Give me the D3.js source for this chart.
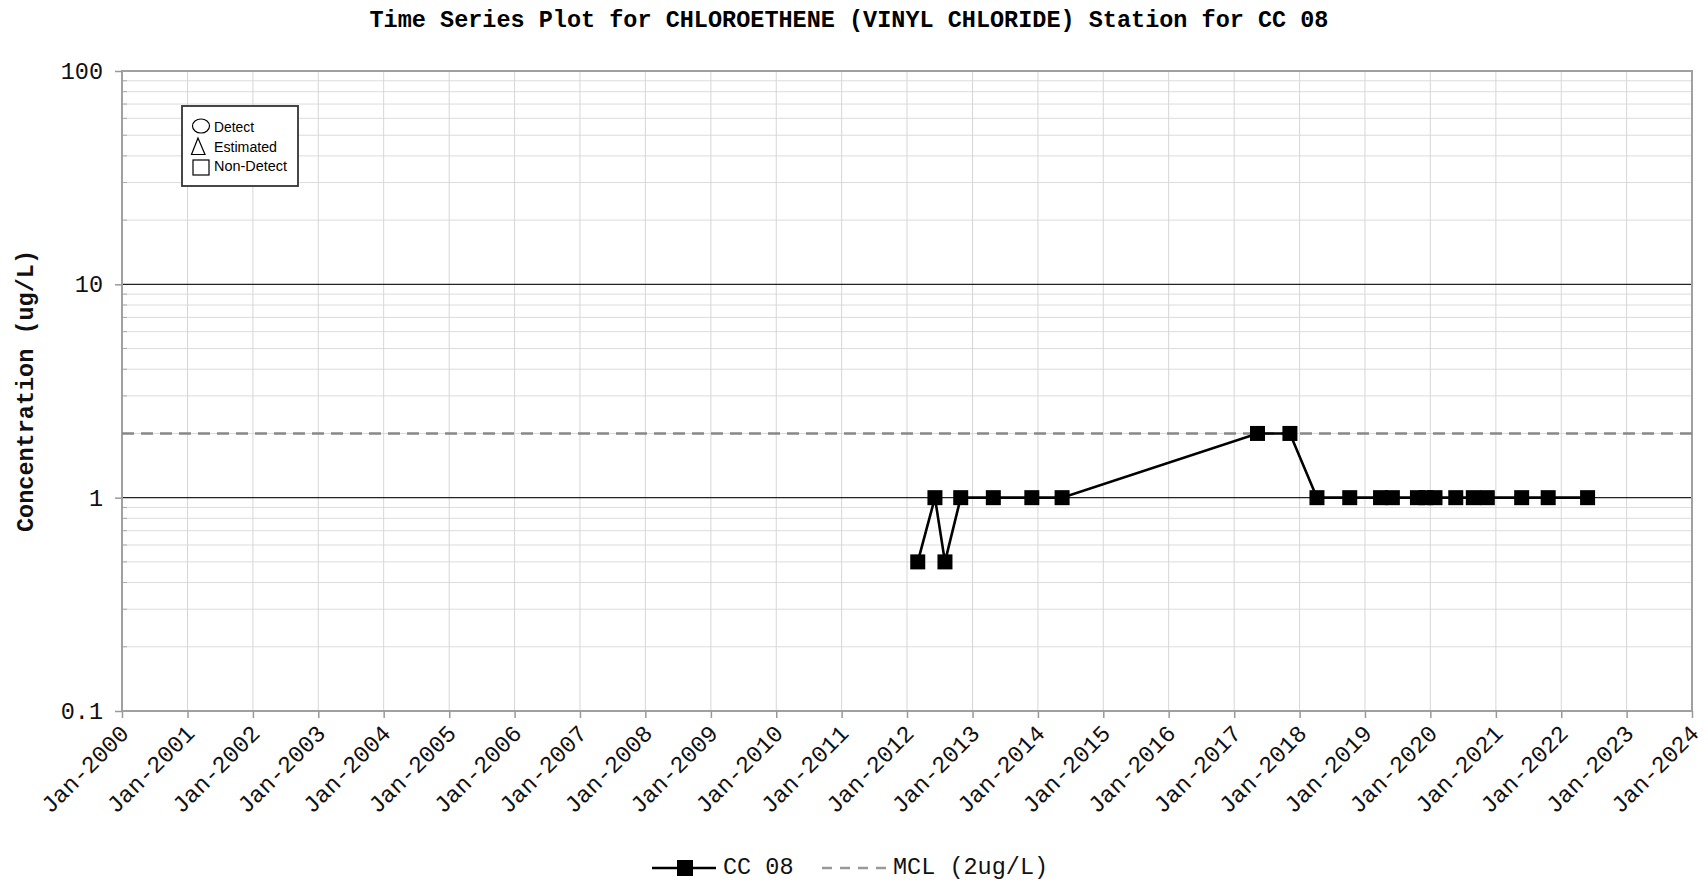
<!DOCTYPE html>
<html>
<head>
<meta charset="utf-8">
<script src="https://cdn.jsdelivr.net/npm/d3@7/dist/d3.min.js"></script>
<style>
  html, body { margin: 0; padding: 0; background: #fff; }
  svg { display: block; }
</style>
</head>
<body>
<svg id="chart" width="1708" height="884"></svg>
<script>
// ---- Data ----
const chartTitle = "Time Series Plot for CHLOROETHENE (VINYL CHLORIDE) Station for CC 08";
const yAxisTitle = "Concentration (ug/L)";
const seriesName = "CC 08";
const mclName = "MCL (2ug/L)";
const mclValue = 2;

const sampleDates = [
  "2012-03-01", "2012-06-05", "2012-07-31", "2012-10-27",
  "2013-04-27", "2013-11-28", "2014-05-16",
  "2017-05-11", "2017-11-08",
  "2018-04-08", "2018-10-08",
  "2019-03-29", "2019-06-03", "2019-10-21", "2019-12-07",
  "2020-01-27", "2020-05-22", "2020-08-28", "2020-11-14",
  "2021-05-25", "2021-10-20", "2022-05-28"
];
const concentrations = [
  0.5, 1, 0.5, 1,
  1, 1, 1,
  2, 2,
  1, 1,
  1, 1, 1, 1,
  1, 1, 1, 1,
  1, 1, 1
];
const yearTicks = d3.range(2000, 2025);
const yTickValues = [0.1, 1, 10, 100];
const yTickLabels = ["0.1", "1", "10", "100"];
const symbolLegendLabels = ["Detect", "Estimated", "Non-Detect"];

// ---- Layout ----
const svg = d3.select("#chart");
const L = 122, R = 1692, T = 71, B = 711;
const parse = d3.timeParse("%Y-%m-%d");
const data = sampleDates.map((d, i) => ({ date: parse(d), value: concentrations[i] }));

const x = d3.scaleTime()
  .domain([new Date(2000, 0, 1), new Date(2024, 0, 1)])
  .range([L, R]);
const y = d3.scaleLog()
  .domain([0.1, 100])
  .range([B, T]);

const mono = "'Liberation Mono', 'Courier New', monospace";

// Title
svg.append("text")
  .attr("x", 849).attr("y", 27)
  .attr("text-anchor", "middle")
  .style("font-family", mono).style("font-weight", "bold").style("font-size", "23.5px")
  .attr("fill", "#000")
  .text(chartTitle);

const g = svg.append("g");

// Minor horizontal gridlines
const minorVals = [];
[0.1, 1, 10].forEach(dec => { for (let k = 2; k <= 9; k++) minorVals.push(dec * k); });
g.append("g").selectAll("line").data(minorVals).join("line")
  .attr("x1", L).attr("x2", R)
  .attr("y1", d => y(d)).attr("y2", d => y(d))
  .attr("stroke", "#dcdcdc").attr("stroke-width", 1);
// minor tick marks on left axis
g.append("g").selectAll("line").data(minorVals).join("line")
  .attr("x1", L).attr("x2", L + 5)
  .attr("y1", d => y(d)).attr("y2", d => y(d))
  .attr("stroke", "#aaa").attr("stroke-width", 1);

// Vertical gridlines (years)
const yearDates = yearTicks.map(yr => new Date(yr, 0, 1));
g.append("g").selectAll("line").data(yearDates).join("line")
  .attr("x1", d => x(d)).attr("x2", d => x(d))
  .attr("y1", T).attr("y2", B)
  .attr("stroke", "#d6d6d6").attr("stroke-width", 1);

// Major horizontal lines at 1 and 10
g.append("g").selectAll("line").data([1, 10]).join("line")
  .attr("x1", L).attr("x2", R)
  .attr("y1", d => y(d)).attr("y2", d => y(d))
  .attr("stroke", "#222").attr("stroke-width", 1.2);

// Plot border
g.append("rect")
  .attr("x", L).attr("y", T).attr("width", R - L).attr("height", B - T)
  .attr("fill", "none").attr("stroke", "#a0a0a0").attr("stroke-width", 2);

// Y axis
const yAxis = d3.axisLeft(y)
  .tickValues(yTickValues)
  .tickFormat((d, i) => yTickLabels[i])
  .tickSize(7).tickPadding(12);
const yAxisG = svg.append("g").attr("transform", `translate(${L},0)`).call(yAxis);
yAxisG.select(".domain").remove();
yAxisG.selectAll(".tick line").attr("stroke", "#999").attr("stroke-width", 1.5);
yAxisG.selectAll(".tick text")
  .style("font-family", mono).style("font-size", "23.5px").attr("fill", "#111");

// X axis
const xAxis = d3.axisBottom(x)
  .tickValues(yearDates)
  .tickFormat(d3.timeFormat("%b-%Y"))
  .tickSize(7);
const xAxisG = svg.append("g").attr("transform", `translate(0,${B})`).call(xAxis);
xAxisG.select(".domain").remove();
xAxisG.selectAll(".tick line").attr("stroke", "#999").attr("stroke-width", 1.5);
xAxisG.selectAll(".tick text")
  .style("font-family", mono).style("font-size", "23.5px").attr("fill", "#111")
  .attr("text-anchor", "end")
  .attr("x", 0).attr("y", 0).attr("dy", "0.35em")
  .attr("transform", "translate(2,18) rotate(-45)");

// Y axis title
svg.append("text")
  .attr("transform", "translate(33,391) rotate(-90)")
  .attr("text-anchor", "middle")
  .style("font-family", mono).style("font-weight", "bold").style("font-size", "23.5px")
  .attr("fill", "#111")
  .text(yAxisTitle);

// MCL line
g.append("line")
  .attr("x1", L).attr("x2", R)
  .attr("y1", y(mclValue)).attr("y2", y(mclValue))
  .attr("stroke", "#888").attr("stroke-width", 2.5)
  .attr("stroke-dasharray", "12,7");

// Series line
const line = d3.line().x(d => x(d.date)).y(d => y(d.value));
g.append("path").datum(data)
  .attr("d", line).attr("fill", "none")
  .attr("stroke", "#000").attr("stroke-width", 2.6);

// Non-detect squares
const sq = 15;
g.append("g").selectAll("rect").data(data).join("rect")
  .attr("x", d => x(d.date) - sq / 2).attr("y", d => y(d.value) - sq / 2)
  .attr("width", sq).attr("height", sq)
  .attr("fill", "#000");

// Symbol legend box
const lg = svg.append("g");
lg.append("rect")
  .attr("x", 182).attr("y", 106).attr("width", 116).attr("height", 80)
  .attr("fill", "#fff").attr("stroke", "#333").attr("stroke-width", 1.8);
const sans = "'Liberation Sans', Arial, sans-serif";
lg.append("ellipse").attr("cx", 201).attr("cy", 126).attr("rx", 8.5).attr("ry", 7)
  .attr("fill", "none").attr("stroke", "#000").attr("stroke-width", 1.2);
lg.append("path").attr("d", "M198,138 L191.5,154.5 L205,154.5 Z")
  .attr("fill", "none").attr("stroke", "#000").attr("stroke-width", 1.2);
lg.append("rect").attr("x", 193).attr("y", 160).attr("width", 16).attr("height", 15)
  .attr("fill", "none").attr("stroke", "#000").attr("stroke-width", 1.2);
const legYs = [131.5, 151.5, 171];
const legLens = [40, 63, 73];
lg.selectAll("text.sym").data(symbolLegendLabels).join("text")
  .attr("class", "sym")
  .attr("x", 214).attr("y", (d, i) => legYs[i])
  .attr("textLength", (d, i) => legLens[i]).attr("lengthAdjust", "spacingAndGlyphs")
  .style("font-family", sans).style("font-size", "14px").attr("fill", "#000")
  .text(d => d);

// Bottom legend
const bl = svg.append("g");
bl.append("line").attr("x1", 652).attr("x2", 716).attr("y1", 868).attr("y2", 868)
  .attr("stroke", "#000").attr("stroke-width", 2.6);
bl.append("rect").attr("x", 677).attr("y", 860).attr("width", 16).attr("height", 16).attr("fill", "#000");
bl.append("text").attr("x", 723).attr("y", 874)
  .style("font-family", mono).style("font-size", "23.5px").attr("fill", "#111")
  .text(seriesName);
bl.append("line").attr("x1", 822).attr("x2", 889).attr("y1", 868).attr("y2", 868)
  .attr("stroke", "#999").attr("stroke-width", 2.5).attr("stroke-dasharray", "10,8");
bl.append("text").attr("x", 893).attr("y", 874)
  .style("font-family", mono).style("font-size", "23.5px").attr("fill", "#111")
  .text(mclName);
</script>
</body>
</html>
